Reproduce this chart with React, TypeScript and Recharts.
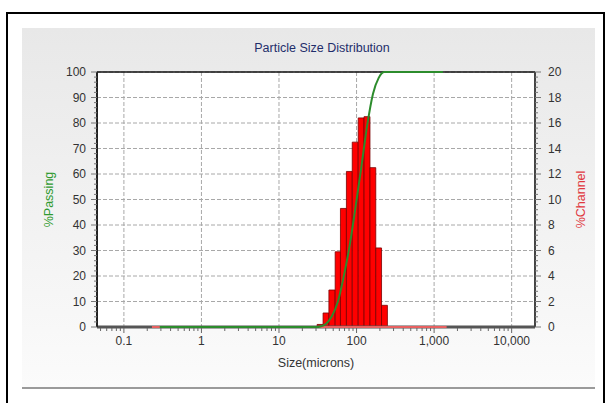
import React from 'react';
import {
  ComposedChart,
  Line,
  XAxis,
  YAxis,
  CartesianGrid,
  ReferenceArea,
  ReferenceLine,
} from 'recharts';

// sieve bin edges (microns), 2^(1/4) series
const binEdges = [31, 37, 44, 53, 62, 74, 88, 105, 125, 149, 177, 210, 250];
// %channel per bin
const channelPct = [0.2, 1.1, 2.9, 5.9, 9.3, 12.2, 14.5, 16.4, 16.5, 12.5, 6.2, 1.7];

// cumulative %passing curve
const passingSize = [0.29, 31, 34, 40.5, 48, 57.5, 68, 81, 96, 115, 137, 163, 193, 229, 1300];
const passingPct = [0, 0, 0.2, 1.3, 4.2, 10, 19.5, 31.5, 46, 62.5, 79, 91.5, 97.7, 100, 100];

// channel baseline extent
const channelRange = [0.23, 1450];

const xMajor = [0.1, 1, 10, 100, 1000, 10000];
const xMajorLabels = ['0.1', '1', '10', '100', '1,000', '10,000'];
const leftMajor = [0, 10, 20, 30, 40, 50, 60, 70, 80, 90, 100];
const rightMajor = [0, 2, 4, 6, 8, 10, 12, 14, 16, 18, 20];

const FONT = '"Liberation Sans", Arial, sans-serif';
const TICK_COLOR = '#333';

const xMinor: number[] = [];
[0.01, 0.1, 1, 10, 100, 1000].forEach((d) => {
  for (let m = 2; m <= 9; m++) {
    const v = +(m * d).toPrecision(3);
    if (v > 0.045 && v < 20000) xMinor.push(v);
  }
});
const xTicks = [...xMajor, ...xMinor].sort((a, b) => a - b);
const leftTicks = Array.from({ length: 51 }, (_, i) => i * 2);
const rightTicks = Array.from({ length: 51 }, (_, i) => +(i * 0.4).toFixed(1));

const passingData = passingSize.map((x, i) => ({ x, y: passingPct[i] }));
const baseData = channelRange.map((x) => ({ x, y: 0 }));

const XTick = (props: any) => {
  const { x, y, payload } = props;
  const idx = xMajor.indexOf(payload.value);
  const major = idx >= 0;
  return (
    <g>
      <line x1={x} x2={x} y1={y + 1} y2={y + (major ? 6 : 4)} stroke="#666" />
      {major && (
        <text x={x} y={y + 18} textAnchor="middle" fontSize={12} fill={TICK_COLOR} fontFamily={FONT}>
          {xMajorLabels[idx]}
        </text>
      )}
    </g>
  );
};

const LeftTick = (props: any) => {
  const { x, y, payload } = props;
  const major = leftMajor.includes(payload.value);
  return (
    <g>
      <line x1={x} x2={x - (major ? 6 : 3)} y1={y} y2={y} stroke="#777" />
      {major && (
        <text x={x - 11} y={y + 4} textAnchor="end" fontSize={12} fill={TICK_COLOR} fontFamily={FONT}>
          {payload.value}
        </text>
      )}
    </g>
  );
};

const RightTick = (props: any) => {
  const { x, y, payload } = props;
  const major = rightMajor.includes(payload.value);
  return (
    <g>
      <line x1={x} x2={x + (major ? 6 : 3)} y1={y} y2={y} stroke="#777" />
      {major && (
        <text x={x + 13} y={y + 4} textAnchor="start" fontSize={12} fill={TICK_COLOR} fontFamily={FONT}>
          {payload.value}
        </text>
      )}
    </g>
  );
};

const yTitle = (text: string, color: string, dx: number) => (props: any) => {
  const vb = props.viewBox;
  const cx = vb.x + vb.width / 2 + dx;
  const cy = vb.y + vb.height / 2;
  return (
    <text
      x={cx}
      y={cy}
      transform={`rotate(-90 ${cx} ${cy})`}
      textAnchor="middle"
      dominantBaseline="central"
      fontSize={12.5}
      fill={color}
      fontFamily={FONT}
    >
      {text}
    </text>
  );
};

const xTitle = (props: any) => {
  const vb = props.viewBox;
  return (
    <text x={vb.x + vb.width / 2} y={vb.y + 40} textAnchor="middle" fontSize={12.5} fill="#333" fontFamily={FONT}>
      Size(microns)
    </text>
  );
};

export default function App() {
  return (
    <div style={{ position: 'absolute', left: 0, top: 0, width: 608, height: 403, background: '#fff', overflow: 'hidden' }}>
      <div
        style={{
          position: 'absolute',
          left: 6,
          top: 12,
          width: 595,
          height: 400,
          borderLeft: '2px solid #000',
          borderTop: '2px solid #000',
          borderRight: '2px solid #000',
        }}
      />
      <div
        style={{
          position: 'absolute',
          left: 22,
          top: 28,
          width: 573,
          height: 359,
          background: 'linear-gradient(#e8e8e8, #fbfbfb)',
        }}
      />
      <div style={{ position: 'absolute', left: 22, top: 387, width: 573, height: 2, background: '#9a9a9a' }} />
      <div
        style={{
          position: 'absolute',
          left: 0,
          top: 41,
          width: 644,
          textAlign: 'center',
          fontFamily: FONT,
          fontSize: 12.5,
          color: '#1f2e6b',
        }}
      >
        Particle Size Distribution
      </div>
      <div style={{ position: 'absolute', left: 0, top: 0 }}>
        <ComposedChart width={608} height={403} margin={{ top: 72, right: 0, bottom: 0, left: 0 }}>
          <CartesianGrid
            yAxisId="left"
            fill="#fff"
            stroke="#a8a8a8"
            strokeDasharray="4 2"
            verticalValues={xMajor}
            horizontalValues={leftMajor}
          />
          <XAxis
            dataKey="x"
            type="number"
            scale="log"
            domain={[0.045, 20000]}
            allowDataOverflow
            ticks={xTicks}
            interval={0}
            height={76}
            tickSize={0}
            tickMargin={0}
            tickLine={false}
            tick={<XTick />}
            axisLine={false}
            label={xTitle}
          />
          <YAxis
            yAxisId="left"
            orientation="left"
            type="number"
            domain={[0, 100]}
            ticks={leftTicks}
            interval={0}
            width={97}
            tickSize={0}
            tickMargin={0}
            tickLine={false}
            tick={<LeftTick />}
            axisLine={{ stroke: '#222', strokeWidth: 2 }}
            label={yTitle('%Passing', '#2f9a2f', 0)}
          />
          <YAxis
            yAxisId="right"
            orientation="right"
            type="number"
            domain={[0, 20]}
            ticks={rightTicks}
            interval={0}
            width={73}
            tickSize={0}
            tickMargin={0}
            tickLine={false}
            tick={<RightTick />}
            axisLine={{ stroke: '#444', strokeWidth: 2 }}
            label={yTitle('%Channel', '#e0383e', 9)}
          />
          <ReferenceLine yAxisId="left" y={100} stroke="#111" strokeWidth={1.5} />
          <ReferenceLine yAxisId="left" y={0} stroke="#555" strokeWidth={3} />
          <Line
            yAxisId="right"
            data={baseData}
            dataKey="y"
            type="linear"
            stroke="#e86060"
            strokeWidth={2}
            dot={false}
            activeDot={false}
            isAnimationActive={false}
          />
          {channelPct.map((h, i) => (
            <ReferenceArea
              key={i}
              yAxisId="right"
              x1={binEdges[i]}
              x2={binEdges[i + 1]}
              y1={0}
              y2={h}
              fill="#ff0000"
              fillOpacity={1}
              stroke="#7a0000"
              strokeWidth={0.8}
              ifOverflow="visible"
            />
          ))}
          <Line
            yAxisId="left"
            data={passingData}
            dataKey="y"
            type="monotone"
            stroke="#2c8c2c"
            strokeWidth={2}
            dot={false}
            activeDot={false}
            isAnimationActive={false}
          />
        </ComposedChart>
      </div>
    </div>
  );
}
